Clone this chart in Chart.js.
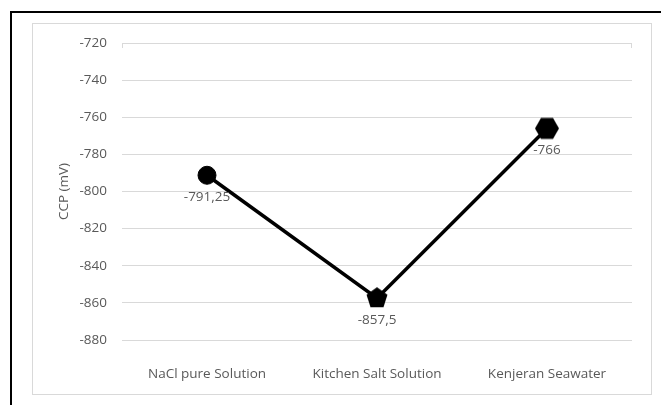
<!DOCTYPE html>
<html>
<head>
<meta charset="utf-8">
<script src="https://cdn.jsdelivr.net/npm/chart.js@4/dist/chart.umd.min.js"></script>
<style>
  html, body { margin: 0; padding: 0; background: #fff; }
  #wrap { position: relative; width: 661px; height: 405px; }
</style>
</head>
<body>
<div id="wrap"><canvas id="ccp-chart" width="661" height="405"></canvas></div>
<script>
const categories = ["NaCl pure Solution", "Kitchen Salt Solution", "Kenjeran Seawater"];
const ccpValues = [-791.25, -857.5, -766];
const axisMin = -880;
const axisMax = -720;
const axisStep = 20;

const textColor = "#595959";
const gridColor = "#d9d9d9";
const fontFamily = "'Open Sans', 'Noto Sans', sans-serif";
const fontSize = 13.5;

// regular polygon drawn to a small canvas, used as a point style
function polygonMarker(sides, radius, rotation) {
  const size = Math.ceil(radius * 2 + 2);
  const c = document.createElement("canvas");
  c.width = size;
  c.height = size;
  const ctx = c.getContext("2d");
  ctx.fillStyle = "#000";
  ctx.beginPath();
  for (let i = 0; i < sides; i += 1) {
    const a = rotation + (i * 2 * Math.PI) / sides;
    const x = size / 2 + radius * Math.cos(a);
    const y = size / 2 + radius * Math.sin(a);
    if (i === 0) ctx.moveTo(x, y);
    else ctx.lineTo(x, y);
  }
  ctx.closePath();
  ctx.fill();
  return c;
}

const pentagon = polygonMarker(5, 11, -Math.PI / 2);
const hexagon = polygonMarker(6, 12, 0);

const framePlugin = {
  id: "frame",
  beforeDraw(chart) {
    const ctx = chart.ctx;
    ctx.save();
    ctx.fillStyle = "#fff";
    ctx.fillRect(0, 0, chart.width, chart.height);
    // outer dark frame (top and left edges)
    ctx.strokeStyle = "#000";
    ctx.lineWidth = 2;
    ctx.beginPath();
    ctx.moveTo(chart.width, 12);
    ctx.lineTo(11, 12);
    ctx.lineTo(11, chart.height);
    ctx.stroke();
    // inner chart border
    ctx.strokeStyle = gridColor;
    ctx.lineWidth = 1;
    ctx.strokeRect(32.5, 23.5, 619, 371);
    ctx.restore();
  },
  afterDraw(chart) {
    // short end ticks on the top gridline
    const { left, right, top } = chart.chartArea;
    const ctx = chart.ctx;
    ctx.save();
    ctx.strokeStyle = gridColor;
    ctx.lineWidth = 1;
    ctx.beginPath();
    ctx.moveTo(Math.round(left) + 0.5, top);
    ctx.lineTo(Math.round(left) + 0.5, top + 5);
    ctx.moveTo(Math.round(right) - 0.5, top);
    ctx.lineTo(Math.round(right) - 0.5, top + 5);
    ctx.stroke();
    ctx.restore();
  },
};

const valueLabels = {
  id: "valueLabels",
  afterDatasetsDraw(chart) {
    const ctx = chart.ctx;
    const meta = chart.getDatasetMeta(0);
    const data = chart.data.datasets[0].data;
    ctx.save();
    ctx.font = fontSize + "px " + fontFamily;
    ctx.fillStyle = textColor;
    ctx.textAlign = "center";
    ctx.textBaseline = "middle";
    meta.data.forEach((pt, i) => {
      const label = String(data[i]).replace(".", ",");
      ctx.fillText(label, pt.x, pt.y + 22);
    });
    ctx.restore();
  },
};

new Chart(document.getElementById("ccp-chart"), {
  type: "line",
  data: {
    labels: categories,
    datasets: [
      {
        data: ccpValues,
        borderColor: "#000",
        backgroundColor: "#000",
        borderWidth: 3.5,
        tension: 0,
        pointStyle: ["circle", pentagon, hexagon],
        pointRadius: 9,
        pointBorderWidth: 1,
        pointBackgroundColor: "#000",
        pointBorderColor: "#000",
      },
    ],
  },
  options: {
    responsive: false,
    animation: false,
    events: [],
    layout: { padding: { left: 56, top: 43, right: 29, bottom: 0 } },
    plugins: {
      legend: { display: false },
      tooltip: { enabled: false },
    },
    scales: {
      x: {
        offset: true,
        grid: { display: false, drawTicks: false },
        border: { display: false },
        ticks: {
          color: textColor,
          font: { family: fontFamily, size: fontSize },
          padding: 26,
          maxRotation: 0,
        },
        afterFit(scale) {
          scale.height = 65;
        },
      },
      y: {
        min: axisMin,
        max: axisMax,
        grid: { color: gridColor, lineWidth: 1, drawTicks: false },
        border: { display: false },
        ticks: {
          stepSize: axisStep,
          color: textColor,
          font: { family: fontFamily, size: fontSize },
          padding: 15,
        },
        title: {
          display: true,
          text: "CCP (mV)",
          color: textColor,
          font: { family: fontFamily, size: fontSize },
          padding: 0,
        },
        afterFit(scale) {
          scale.width = 66;
        },
      },
    },
  },
  plugins: [framePlugin, valueLabels],
});
</script>
</body>
</html>
